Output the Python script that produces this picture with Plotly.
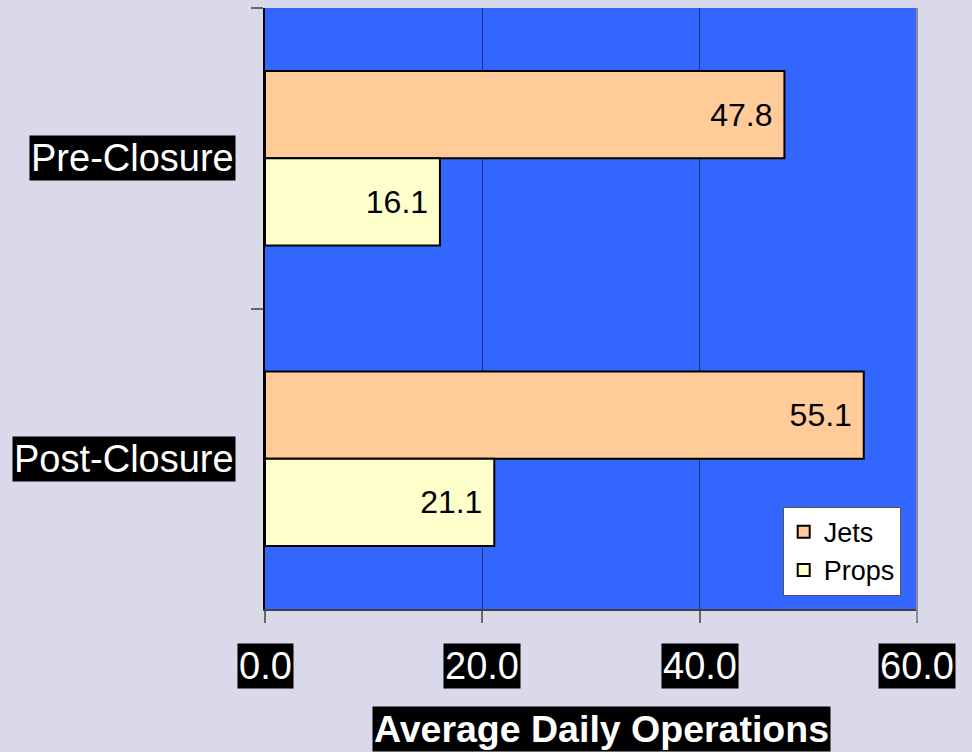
import plotly.graph_objects as go

# data
periods = ["Pre-Closure", "Post-Closure"]
jets = [47.8, 55.1]
props = [16.1, 21.1]
x_ticks = [0, 20, 40, 60]
x_title = "Average Daily Operations"

FONT = "Liberation Sans, Arial, sans-serif"

fig = go.Figure()

fig.add_trace(go.Bar(
    y=periods, x=jets, name="Jets", orientation="h",
    marker=dict(color="#FFCC99", line=dict(color="black", width=2)),
    text=[f"{v:.1f}\u00a0" for v in jets],
    textposition="inside", insidetextanchor="end",
    textfont=dict(family=FONT, size=32, color="black")))

fig.add_trace(go.Bar(
    y=periods, x=props, name="Props", orientation="h",
    marker=dict(color="#FFFFCC", line=dict(color="black", width=2)),
    text=[f"{v:.1f}\u00a0" for v in props],
    textposition="inside", insidetextanchor="end",
    textfont=dict(family=FONT, size=32, color="black")))

# category labels: white on black boxes
for p in periods:
    fig.add_annotation(
        x=0, xref="paper", y=p, yref="y",
        text=p, showarrow=False, xanchor="right", xshift=-29,
        font=dict(family=FONT, size=38, color="white"),
        bgcolor="black", borderpad=1)

# x tick labels, same look
for t in x_ticks:
    fig.add_annotation(
        x=t, xref="x", y=0, yref="paper",
        text=f"{t:.1f}", showarrow=False, yanchor="middle", yshift=-57,
        font=dict(family=FONT, size=38, color="white"),
        bgcolor="black", borderpad=1)

fig.add_annotation(
    x=0.5, xref="paper", y=0, yref="paper",
    text=f"<b>{x_title}</b>", showarrow=False, yanchor="middle",
    xshift=10, yshift=-120,
    font=dict(family=FONT, size=37.5, color="white"),
    bgcolor="black", borderpad=1)

# right edge of the plot area
fig.add_shape(type="line", xref="paper", yref="paper",
              x0=1, x1=1, y0=-0.022, y1=1,
              line=dict(color="#8a8a8a", width=2))

fig.update_layout(
    width=972, height=752,
    margin=dict(l=265, r=55, t=8, b=143),
    paper_bgcolor="#d9d9ea",
    plot_bgcolor="#3366FF",
    barmode="group",
    bargap=0.42,
    bargroupgap=0,
    font=dict(family=FONT),
    legend=dict(
        x=0.975, xanchor="right", y=0.022, yanchor="bottom",
        bgcolor="white", bordercolor="#555555", borderwidth=1,
        font=dict(family=FONT, size=27, color="black"),
        traceorder="normal"),
    xaxis=dict(
        range=[0, 60], tickvals=x_ticks, showticklabels=False,
        showgrid=True, gridcolor="#1f3275", gridwidth=1,
        zeroline=False, showline=True, linecolor="#404040", linewidth=2,
        ticks="outside", ticklen=12, tickcolor="#666666", tickwidth=2),
    yaxis=dict(
        autorange="reversed", showticklabels=False,
        tickson="boundaries", ticks="outside", ticklen=12,
        tickcolor="#666666", tickwidth=2,
        showline=True, linecolor="black", linewidth=2,
        showgrid=False, zeroline=False),
)

# drop the default page margin so the figure fills the window
fig.write_html("out.html", config={"displayModeBar": False},
               post_script="document.body.style.margin='0';")
